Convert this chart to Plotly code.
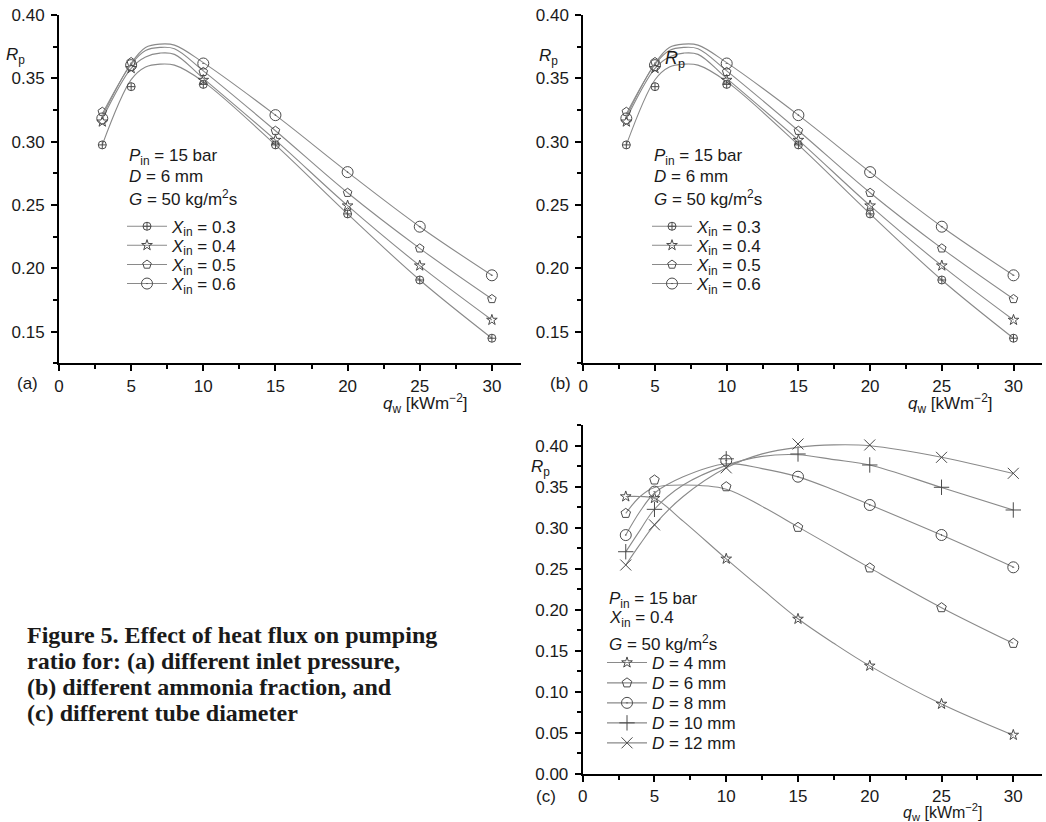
import plotly.graph_objects as go

W, H = 1046, 822

# ---------------- data ----------------
Q = [3, 5, 10, 15, 20, 25, 30]                      # heat flux q_w [kW/m2]

# panels (a) and (b): inlet ammonia fraction X_in
XIN = ["0.3", "0.4", "0.5", "0.6"]
RP_X03 = [0.2975, 0.3435, 0.3453, 0.2975, 0.2430, 0.1908, 0.1448]
RP_X04 = [0.3158, 0.3580, 0.3487, 0.3013, 0.2495, 0.2021, 0.1592]
RP_X05 = [0.3237, 0.3630, 0.3552, 0.3087, 0.2597, 0.2158, 0.1758]
RP_X06 = [0.3184, 0.3605, 0.3618, 0.3210, 0.2760, 0.2329, 0.1945]

# drawn (fitted) curves of panels (a)/(b)
QC_AB = [3, 5, 6, 7, 8, 10, 15, 20, 25, 30]
FIT_X03 = [0.2975, 0.3490, 0.3590, 0.3613, 0.3605, 0.3475, 0.2975, 0.2430, 0.1908, 0.1448]
FIT_X04 = [0.3180, 0.3580, 0.3670, 0.3700, 0.3690, 0.3500, 0.3013, 0.2495, 0.2021, 0.1592]
FIT_X05 = [0.3220, 0.3610, 0.3720, 0.3745, 0.3735, 0.3560, 0.3087, 0.2597, 0.2158, 0.1758]
FIT_X06 = [0.3200, 0.3620, 0.3745, 0.3771, 0.3763, 0.3625, 0.3210, 0.2760, 0.2329, 0.1945]

# panel (c): tube diameter D
DIAM = ["4", "6", "8", "10", "12"]
RP_D4 = [0.3380, 0.3360, 0.2620, 0.1887, 0.1315, 0.0850, 0.0472]
RP_D6 = [0.3175, 0.3582, 0.3500, 0.3005, 0.2510, 0.2025, 0.1590]
RP_D8 = [0.2910, 0.3440, 0.3820, 0.3622, 0.3277, 0.2911, 0.2517]
RP_D10 = [0.2707, 0.3224, 0.3840, 0.3899, 0.3765, 0.3493, 0.3216]
RP_D12 = [0.2545, 0.3035, 0.3730, 0.4021, 0.4009, 0.3858, 0.3663]

QC_C = [3, 4, 5, 7, 10, 12.5, 15, 17.5, 20, 25, 30]
FIT_D4 = [0.338, 0.338, 0.336, 0.308, 0.262, 0.225, 0.189, 0.159, 0.1315, 0.085, 0.047]
FIT_D6 = [0.3175, 0.338, 0.349, 0.352, 0.347, 0.326, 0.301, 0.276, 0.251, 0.2025, 0.159]
FIT_D8 = [0.291, 0.320, 0.342, 0.362, 0.378, 0.372, 0.362, 0.346, 0.328, 0.291, 0.252]
FIT_D10 = [0.2705, 0.297, 0.3225, 0.352, 0.376, 0.387, 0.389, 0.383, 0.3765, 0.349, 0.3215]
FIT_D12 = [0.2545, 0.280, 0.3035, 0.338, 0.373, 0.390, 0.398, 0.401, 0.400, 0.386, 0.366]

X_TICKS = [0, 5, 10, 15, 20, 25, 30]
Y_TICKS_AB = [0.15, 0.20, 0.25, 0.30, 0.35, 0.40]
Y_TICKS_C = [0.00, 0.05, 0.10, 0.15, 0.20, 0.25, 0.30, 0.35, 0.40]

CAPTION = ["Figure 5. Effect of heat flux on pumping",
           "ratio for: (a) different inlet pressure,",
           "(b) different ammonia fraction, and",
           "(c) different tube diameter"]

# ---------------- styling ----------------
FONT = "Liberation Sans, Arial, Helvetica, sans-serif"
SERIF = "Liberation Serif, Times New Roman, serif"
TXT = "#1a1a1a"
LINE = "#8a8a8a"
MK = "#4a4a4a"

AB_MARKERS = [dict(symbol="circle-cross-open", size=8),
              dict(symbol="star-open", size=8),
              dict(symbol="pentagon-open", size=9),
              dict(symbol="circle-open-dot", size=11)]
C_MARKERS = [dict(symbol="star-open", size=8),
             dict(symbol="pentagon-open", size=10),
             dict(symbol="circle-open-dot", size=11),
             dict(symbol="cross-thin-open", size=11),
             dict(symbol="x-thin-open", size=11)]


def px(x):
    return x / W


def py(y):
    return 1 - y / H


fig = go.Figure()

legend_count = [0]


def add_series(xa, ya, qc, fit, q, rp, mk, name, leg_x, leg_y):
    fig.add_trace(go.Scatter(x=qc, y=fit, mode="lines", xaxis=xa, yaxis=ya,
                             line=dict(color=LINE, width=1.1, shape="spline", smoothing=1.0),
                             showlegend=False, hoverinfo="skip"))
    fig.add_trace(go.Scatter(x=q, y=rp, mode="markers", xaxis=xa, yaxis=ya,
                             marker=dict(symbol=mk["symbol"], size=mk["size"], color=MK,
                                         line=dict(color=MK, width=1)),
                             showlegend=False))
    legend_count[0] += 1
    lid = "legend" if legend_count[0] == 1 else "legend%d" % legend_count[0]
    fig.add_trace(go.Scatter(x=[None], y=[None], mode="lines+markers", xaxis=xa, yaxis=ya,
                             name=name, legend=lid,
                             line=dict(color=LINE, width=1.1),
                             marker=dict(symbol=mk["symbol"], size=mk["size"], color=MK,
                                         line=dict(color=MK, width=1))))
    fig.update_layout({lid: dict(x=px(leg_x), y=py(leg_y), xanchor="left", yanchor="middle",
                                 bgcolor="rgba(0,0,0,0)", borderwidth=0, itemwidth=40,
                                 font=dict(family=FONT, size=17, color=TXT))})


AB_RP = [RP_X03, RP_X04, RP_X05, RP_X06]
AB_FIT = [FIT_X03, FIT_X04, FIT_X05, FIT_X06]
AB_LEG_Y = [226.7, 245.7, 265.0, 284.0]
for (xa, ya, lx) in [("x", "y", 122), ("x2", "y2", 647)]:
    for i in range(4):
        add_series(xa, ya, QC_AB, AB_FIT[i], Q, AB_RP[i], AB_MARKERS[i],
                   "<i>X</i><sub>in</sub> = " + XIN[i], lx, AB_LEG_Y[i])

C_RP = [RP_D4, RP_D6, RP_D8, RP_D10, RP_D12]
C_FIT = [FIT_D4, FIT_D6, FIT_D8, FIT_D10, FIT_D12]
C_LEG_Y = [663.0, 683.3, 703.3, 723.3, 743.3]
for i in range(5):
    add_series("x3", "y3", QC_C, C_FIT[i], Q, C_RP[i], C_MARKERS[i],
               "<i>D</i> = " + DIAM[i] + " mm", 602, C_LEG_Y[i])


def xaxis_cfg(x0, x1, anchor):
    return dict(domain=[px(x0), px(x1)], range=[0, 32], anchor=anchor, automargin=False,
                showline=True, linecolor="black", linewidth=2, showgrid=False, zeroline=False,
                ticks="outside", ticklen=6, tickwidth=1.5, tickcolor="black",
                tickmode="array", tickvals=X_TICKS, ticktext=[str(v) for v in X_TICKS],
                minor=dict(tickmode="linear", tick0=0, dtick=2.5, ticks="outside",
                           ticklen=4, tickwidth=1.5, tickcolor="black", showgrid=False),
                tickfont=dict(family=FONT, size=17, color=TXT), fixedrange=True)


def yaxis_cfg(y0, y1, rng, ticks, anchor):
    return dict(domain=[py(y1), py(y0)], range=rng, anchor=anchor, automargin=False,
                showline=True, linecolor="black", linewidth=2, showgrid=False, zeroline=False,
                ticks="outside", ticklen=6, tickwidth=1.5, tickcolor="black",
                ticklabelstandoff=3,
                tickmode="array", tickvals=ticks, ticktext=["%.2f" % v for v in ticks],
                minor=dict(tickmode="linear", tick0=0, dtick=0.025, ticks="outside",
                           ticklen=4, tickwidth=1.5, tickcolor="black", showgrid=False),
                tickfont=dict(family=FONT, size=17, color=TXT), fixedrange=True)


# pixel frames of the three panels (left, right of x-axis / top, bottom of y-axis)
fig.update_layout(
    xaxis=xaxis_cfg(59, 59 + 32 * 14.43, "y"),
    yaxis=yaxis_cfg(15, 363.3, [0.125, 0.4001], Y_TICKS_AB, "x"),
    xaxis2=xaxis_cfg(583.3, 583.3 + 32 * 14.34, "y2"),
    yaxis2=yaxis_cfg(15, 363.3, [0.125, 0.4001], Y_TICKS_AB, "x2"),
    xaxis3=xaxis_cfg(582.7, 582.7 + 32 * 14.353, "y3"),
    yaxis3=yaxis_cfg(425.2, 773.7, [0, 0.425], Y_TICKS_C, "x3"),
)

ann = []


def text(x, y, s, size=17, xanchor="left", family=FONT, xref="paper", yref="paper"):
    ann.append(dict(x=px(x) if xref == "paper" else x, y=py(y) if yref == "paper" else y,
                    xref=xref, yref=yref, text=s, showarrow=False,
                    xanchor=xanchor, yanchor="middle",
                    font=dict(family=family, size=size, color=TXT)))


# condition text blocks
for x0 in (126.7, 651.7):
    text(x0, 157.5, "<i>P</i><sub>in</sub> = 15 bar")
    text(x0, 176.5, "<i>D</i> = 6 mm")
    text(x0, 198.0, "<i>G</i> = 50 kg/m<sup>2</sup>s")
text(606.7, 600.0, "<i>P</i><sub>in</sub> = 15 bar")
text(606.7, 619.0, "<i>X</i><sub>in</sub> = 0.4")
text(606.7, 642.5, "<i>G</i> = 50 kg/m<sup>2</sup>s")

# axis labels
for (x0, y0) in ((15.5, 56.5), (548, 57), (540, 468)):
    text(x0, y0, "<i>R</i><sub>p</sub>", xanchor="center")
for (x0, y0, fs) in ((425.7, 403, 17), (950, 403, 17), (943, 811.5, 16)):
    text(x0, y0, "<i>q</i><sub>w</sub> [kWm<sup>\u22122</sup>]", size=fs, xanchor="center")
# stray label inside panel (b)
text(6.4, 0.3653, "<i>R</i><sub>p</sub>", size=18, xanchor="center", xref="x2", yref="y2")

# panel letters
text(27, 383, "(a)", xanchor="center")
text(560, 383, "(b)", xanchor="center")
text(546, 796, "(c)", xanchor="center")

# caption
for line, yc in zip(CAPTION, (635.2, 661.2, 687.2, 713.4)):
    text(25, yc, "<b>" + line + "</b>", size=24, family=SERIF)

fig.update_layout(annotations=ann, width=W, height=H,
                  margin=dict(l=0, r=0, t=0, b=0, autoexpand=False),
                  paper_bgcolor="white", plot_bgcolor="white",
                  showlegend=True, hovermode=False)

fig.write_html("out.html", config={"displayModeBar": False},
               post_script="document.body.style.margin='0';")
